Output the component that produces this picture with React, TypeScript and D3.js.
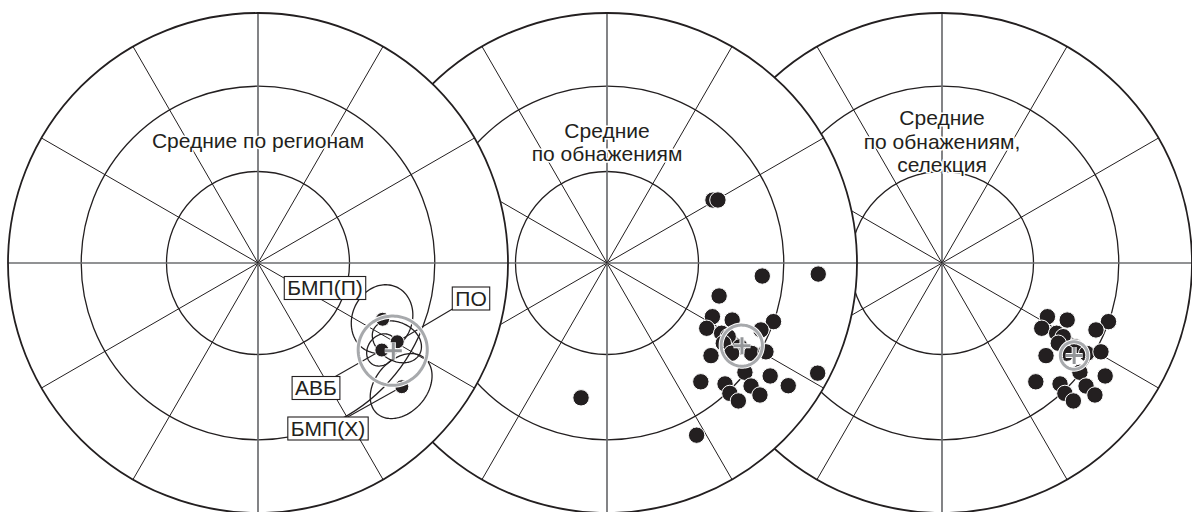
import React, { useEffect, useRef } from 'react'
import * as d3 from 'd3'

const width = 1192
const height = 512

// three equal-area nets (lower hemisphere)
const panelCentersX = [258, 607, 942]
const panelCenterY = 263
const netRadius = 250
const ringInclinations = [60, 30]
const spokeAzimuths = [0, 30, 60, 90, 120, 150, 180, 210, 240, 270, 300, 330]

const panelTitles = [
	['Средние по регионам'],
	['Средние', 'по обнажениям'],
	['Средние', 'по обнажениям,', 'селекция']
]

// regional means, first net
const regionNames = ['БМП(П)', 'ПО', 'АВБ', 'БМП(Х)']
const regionDec = [114.3, 119.5, 125.1, 130.7]
const regionInc = [44.5, 36.2, 39.3, 25.1]
const regionConeInc = [10.5, 9.5, 5, 10]
const regionConeDec = [10.5, 5.5, 5, 10]

// site means, second net (selected ones also on the third)
const siteDec = [106.4, 117.0, 123.2, 114.5, 109.4, 113.5, 121.5, 121.3, 124.6, 122.2, 122.0, 119.2, 131.7, 125.9, 128.4, 124.7, 124.1, 117.6, 141.7, 135.7, 136.7, 130.5, 130.8, 136.4, 94.8, 93.0, 59.3, 60.4, 190.9, 152.5]
const siteInc = [51.4, 50.9, 50.6, 44.2, 30.1, 33.3, 45.3, 42.7, 42.9, 37.2, 32.3, 28.0, 43.6, 38.4, 30.3, 21.7, 13.5, 5.5, 39.3, 32.9, 29.1, 25.2, 20.3, 24.8, 37.7, 16.5, 49.2, 47.7, 44.3, 23.4]
const siteSelected = [0, 1, 1, 1, 1, 1, 1, 1, 1, 1, 1, 1, 1, 1, 1, 1, 0, 0, 1, 1, 1, 1, 1, 1, 0, 0, 0, 0, 0, 0]

// overall mean and its confidence oval for each net
const meanDec = [123.0, 121.5, 125.0]
const meanInc = [35.7, 36.8, 35.7]
const meanConeInc = [12.6, 7.5, 5.0]
const meanConeDec = [10.0, 5.95, 3.95]

// label boxes (layout) and whether a leader goes to the dot
const labelPos = [
	[325, 287.5],
	[471, 298],
	[316, 387.5],
	[328, 428]
]
const labelLeader = [false, true, true, true]

const ink = '#231f20'
const font = "'Liberation Sans', Arial, sans-serif"

const App = () => {
	const ref = useRef<SVGSVGElement>(null)

	useEffect(() => {
		if (!ref.current) return
		const svg = d3.select(ref.current)
		svg.selectAll('*').remove()

		const rad = Math.PI / 180
		const lonLat = (dec: number, inc: number): [number, number] => [180 - dec, inc]

		const makeProj = (i: number) =>
			d3
				.geoAzimuthalEqualArea()
				.rotate([0, -90])
				.scale(netRadius / Math.SQRT2)
				.translate([panelCentersX[i], panelCenterY])

		// oval around a direction on the sphere, projected
		const cone = (proj, dec, inc, aInc, aDec) => {
			const D = dec * rad
			const I = inc * rad
			const v = [Math.cos(I) * Math.cos(D), Math.cos(I) * Math.sin(D), Math.sin(I)]
			const eI = [-Math.sin(I) * Math.cos(D), -Math.sin(I) * Math.sin(D), Math.cos(I)]
			const eD = [-Math.sin(D), Math.cos(D), 0]
			return d3.range(0, 360, 3).map(t => {
				const u1 = aInc * rad * Math.cos(t * rad)
				const u2 = aDec * rad * Math.sin(t * rad)
				const rho = Math.hypot(u1, u2)
				const s = Math.sin(rho) / rho
				const c = Math.cos(rho)
				const q = [0, 1, 2].map(k => c * v[k] + s * (u1 * eI[k] + u2 * eD[k]))
				const inc2 = Math.asin(q[2]) / rad
				const dec2 = Math.atan2(q[1], q[0]) / rad
				return proj(lonLat(dec2, inc2))
			})
		}
		const closed = d3.line().curve(d3.curveLinearClosed)

		const drawMean = (g, proj, i) => {
			const pts = cone(proj, meanDec[i], meanInc[i], meanConeInc[i], meanConeDec[i])
			g.append('path').attr('d', closed(pts)).attr('fill', 'none').attr('stroke', '#fff').attr('stroke-width', 5)
			g.append('path').attr('d', closed(pts)).attr('fill', 'none').attr('stroke', '#a7a9ac').attr('stroke-width', 3)
			const [mx, my] = proj(lonLat(meanDec[i], meanInc[i]))
			const arm = 8.5
			const plus = `M${mx - arm},${my}H${mx + arm}M${mx},${my - arm}V${my + arm}`
			g.append('path').attr('d', plus).attr('stroke', '#fff').attr('stroke-width', 5)
			g.append('path').attr('d', plus).attr('stroke', '#939598').attr('stroke-width', 3)
		}

		// last net first, so the middle one covers it and the first covers the middle
		for (const pi of [2, 1, 0]) {
			const proj = makeProj(pi)
			const cx = panelCentersX[pi]
			const cy = panelCenterY
			const g = svg.append('g')

			g.append('circle').attr('cx', cx).attr('cy', cy).attr('r', netRadius).attr('fill', '#fff')

			g.selectAll('circle.ring')
				.data(ringInclinations)
				.join('circle')
				.attr('class', 'ring')
				.attr('cx', cx)
				.attr('cy', cy)
				.attr('r', d => {
					const [x, y] = proj(lonLat(0, d))
					return Math.hypot(x - cx, y - cy)
				})
				.attr('fill', 'none')
				.attr('stroke', ink)
				.attr('stroke-width', 1.3)

			g.selectAll('line.spoke')
				.data(spokeAzimuths)
				.join('line')
				.attr('class', 'spoke')
				.attr('x1', cx)
				.attr('y1', cy)
				.attr('x2', d => proj(lonLat(d, 0))[0])
				.attr('y2', d => proj(lonLat(d, 0))[1])
				.attr('stroke', d => (d % 90 === 0 ? '#6d6e71' : ink))
				.attr('stroke-width', d => (d % 90 === 0 ? 1.7 : 1))

			g.append('text')
				.attr('x', cx)
				.attr('text-anchor', 'middle')
				.attr('font-family', font)
				.attr('font-size', 21)
				.attr('fill', ink)
				.attr('stroke', '#fff')
				.attr('stroke-width', 3)
				.attr('paint-order', 'stroke')
				.selectAll('tspan')
				.data(panelTitles[pi])
				.join('tspan')
				.attr('x', cx)
				.attr('y', (d, k) => {
					const n = panelTitles[pi].length
					const top = n === 1 ? 148 : n === 2 ? 137.5 : 125
					return top + k * 23.7
				})
				.text(d => d)

			if (pi === 0) {
				regionNames.forEach((name, k) => {
					const pts = cone(proj, regionDec[k], regionInc[k], regionConeInc[k], regionConeDec[k])
					g.append('path').attr('d', closed(pts)).attr('fill', 'none').attr('stroke', ink).attr('stroke-width', 1.3)
				})
				regionNames.forEach((name, k) => {
					if (!labelLeader[k]) return
					const [x, y] = proj(lonLat(regionDec[k], regionInc[k]))
					g.append('line')
						.attr('x1', labelPos[k][0])
						.attr('y1', labelPos[k][1])
						.attr('x2', x)
						.attr('y2', y)
						.attr('stroke', ink)
						.attr('stroke-width', 1.1)
				})
				g.selectAll('circle.region')
					.data(regionNames)
					.join('circle')
					.attr('class', 'region')
					.attr('cx', (d, k) => proj(lonLat(regionDec[k], regionInc[k]))[0])
					.attr('cy', (d, k) => proj(lonLat(regionDec[k], regionInc[k]))[1])
					.attr('r', 7)
					.attr('fill', ink)
					.attr('stroke', '#fff')
					.attr('stroke-width', 1)
				drawMean(g, proj, 0)
				regionNames.forEach((name, k) => {
					const lg = g.append('g')
					const rect = lg.append('rect')
					const t = lg
						.append('text')
						.attr('x', labelPos[k][0])
						.attr('y', labelPos[k][1] + 7.5)
						.attr('text-anchor', 'middle')
						.attr('font-family', font)
						.attr('font-size', 21)
						.attr('fill', ink)
						.text(name)
					const bb = (t.node() as SVGTextElement).getBBox()
					rect
						.attr('x', bb.x - 3)
						.attr('y', bb.y + 0.5)
						.attr('width', bb.width + 6)
						.attr('height', bb.height)
						.attr('fill', '#fff')
						.attr('stroke', ink)
						.attr('stroke-width', 1.1)
				})
			} else {
				const idx = d3.range(siteDec.length).filter(k => pi === 1 || siteSelected[k])
				g.selectAll('circle.site')
					.data(idx)
					.join('circle')
					.attr('class', 'site')
					.attr('cx', k => proj(lonLat(siteDec[k], siteInc[k]))[0])
					.attr('cy', k => proj(lonLat(siteDec[k], siteInc[k]))[1])
					.attr('r', 8.2)
					.attr('fill', ink)
					.attr('stroke', '#fff')
					.attr('stroke-width', 1)
				drawMean(g, proj, pi)
			}

			g.append('circle')
				.attr('cx', cx)
				.attr('cy', cy)
				.attr('r', netRadius)
				.attr('fill', 'none')
				.attr('stroke', ink)
				.attr('stroke-width', 1.8)
		}
	}, [])

	return (
		<svg
			ref={ref}
			width={width}
			height={height}
			style={{ position: 'absolute', left: 0, top: 0, background: '#fff' }}
		></svg>
	)
}

export default App
